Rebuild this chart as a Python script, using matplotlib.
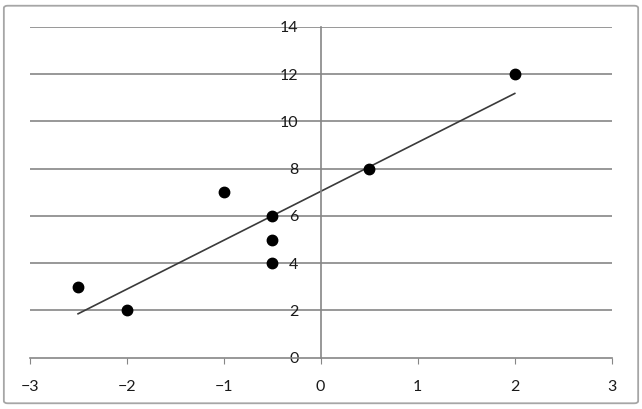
import numpy as np
import matplotlib; matplotlib.use("Agg")
import matplotlib.pyplot as plt
from matplotlib.patches import FancyBboxPatch

# data
x = [-2.5, -2, -1, -0.5, -0.5, -0.5, 0.5, 2]
y = [3, 2, 7, 6, 5, 4, 8, 12]
xticks = [-3, -2, -1, 0, 1, 2, 3]
yticks = [0, 2, 4, 6, 8, 10, 12, 14]

plt.rcParams["font.family"] = ["Lato", "DejaVu Sans"]
grey = "#868686"

fig = plt.figure(figsize=(6.42, 4.09), dpi=100)
fig.patches.append(FancyBboxPatch((0.006, 0.014), 0.988, 0.972, boxstyle="round,pad=0,rounding_size=0.006",
                                  transform=fig.transFigure, fc="white", ec="#a6a6a6", lw=1.3, zorder=-1))
ax = fig.add_axes([0.046, 0.1254, 0.907, 0.8086])
ax.set_facecolor("none")
ax.set_xlim(-3, 3); ax.set_ylim(0, 14)

for yv in yticks[1:]:
    ax.axhline(yv, color=grey, lw=1.2, zorder=1)

# linear trendline
m, b = np.polyfit(x, y, 1)
xs = np.array([min(x), max(x)])
ax.plot(xs, m * xs + b, color="#3a3a3a", lw=1.2, zorder=2)
ax.plot(x, y, "o", color="black", ms=7.5, zorder=3)

for s in ("top", "right"):
    ax.spines[s].set_visible(False)
ax.spines["left"].set_position(("data", 0))
ax.spines["bottom"].set_position(("data", 0))
for s in ("left", "bottom"):
    ax.spines[s].set_color(grey); ax.spines[s].set_linewidth(1.2)
ax.set_xticks(xticks); ax.set_yticks(yticks)
ax.tick_params(axis="x", direction="out", length=4, color=grey, pad=12, labelsize=11.5, labelcolor="#1a1a1a")
ax.tick_params(axis="y", length=0, pad=16, labelsize=11.5, labelcolor="#1a1a1a")
fig.savefig("out.png", dpi=100)
